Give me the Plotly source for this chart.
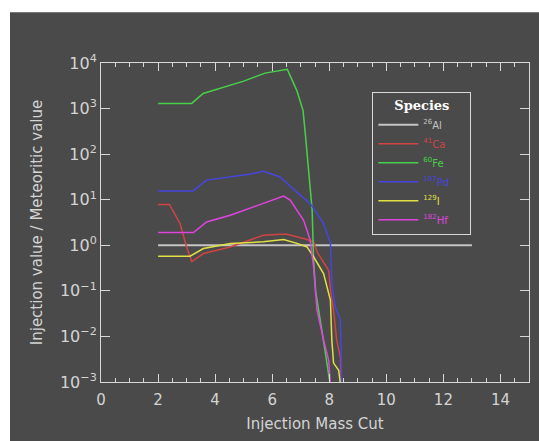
import plotly.graph_objects as go

# ---- data ----
al26_x = [2.0, 13.0]
al26_y = [1.0, 1.0]

ca41_x = [2.0, 2.4, 2.77, 3.0, 3.18, 3.59, 4.53, 5.69, 6.28, 6.51, 7.1, 7.45, 7.57, 7.98, 8.04, 8.15, 8.26, 8.39, 8.42]
ca41_y = [7.85, 7.85, 3.0, 0.92, 0.44, 0.66, 0.92, 1.66, 1.75, 1.74, 1.41, 1.2, 0.72, 0.28, 0.105, 0.038, 0.0083, 0.0035, 0.0009]

fe60_x = [2.0, 3.18, 3.58, 4.5, 5.0, 5.75, 6.2, 6.53, 6.86, 7.08, 7.16, 7.25, 7.33, 7.40, 7.45, 7.52, 7.8, 8.03]
fe60_y = [1300, 1300, 2140, 3160, 4000, 6000, 6600, 7250, 2510, 912, 282, 74, 16.2, 5.9, 0.47, 0.10, 0.0079, 0.0009]

pd107_x = [2.0, 3.23, 3.7, 4.53, 5.2, 5.70, 6.28, 6.87, 7.33, 7.8, 8.04, 8.09, 8.21, 8.39, 8.44]
pd107_y = [15.6, 15.6, 26.9, 31.6, 36.3, 42.2, 31.6, 14.5, 8.3, 3.0, 1.12, 0.145, 0.045, 0.023, 0.0009]

i129_x = [2.0, 3.12, 3.59, 4.53, 5.69, 6.4, 6.87, 7.22, 7.45, 7.8, 8.04, 8.09, 8.15, 8.33, 8.39]
i129_y = [0.575, 0.575, 0.85, 1.1, 1.19, 1.34, 1.1, 0.92, 0.56, 0.24, 0.063, 0.0083, 0.0026, 0.0018, 0.0009]

hf182_x = [2.0, 3.24, 3.7, 4.53, 5.69, 6.4, 6.63, 6.87, 7.1, 7.22, 7.33, 7.45, 7.57, 7.8, 7.98, 8.04]
hf182_y = [1.9, 1.9, 3.24, 4.57, 8.3, 12.0, 9.8, 5.9, 3.55, 2.14, 1.29, 0.34, 0.038, 0.0083, 0.003, 0.0009]

species_names = ["26|Al", "41|Ca", "60|Fe", "107|Pd", "129|I", "182|Hf"]
species_colors = ["#c4c4c4", "#d04444", "#48d048", "#4646e0", "#e0e044", "#e044e0"]

x_tickvals = [0, 2, 4, 6, 8, 10, 12, 14]
y_exponents = [-3, -2, -1, 0, 1, 2, 3, 4]

series = [
    (al26_x, al26_y),
    (ca41_x, ca41_y),
    (fe60_x, fe60_y),
    (pd107_x, pd107_y),
    (i129_x, i129_y),
    (hf182_x, hf182_y),
]

BG = "#4a4a4a"
FG = "#d4d4d4"

fig = go.Figure()
for (xs, ys), nm, col in zip(series, species_names, species_colors):
    iso, el = nm.split("|")
    label = f"<span style='color:{col}'><sup>{iso}</sup>{el}</span>     "
    fig.add_trace(go.Scatter(
        x=xs, y=ys, mode="lines", name=label,
        line=dict(color=col, width=2 if el == "Al" else 1.5),
    ))

# dark panel behind whole chart (white margin at top/left)
fig.add_shape(type="rect", xref="paper", yref="paper",
              x0=-0.2126, x1=1.03, y0=-0.19, y1=1.1588,
              fillcolor=BG, line=dict(width=0), layer="below")

fig.update_layout(
    width=539, height=441,
    margin=dict(l=101, r=10, t=63, b=59, autoexpand=False),
    paper_bgcolor="white",
    plot_bgcolor="rgba(0,0,0,0)",
    font=dict(family="DejaVu Sans", color=FG, size=14),
    showlegend=True,
    legend=dict(
        x=0.634, y=0.908, xanchor="left", yanchor="top",
        bgcolor="rgba(0,0,0,0)", bordercolor="#d8d8d8", borderwidth=1,
        font=dict(family="DejaVu Sans", size=10, color=FG),
        title=dict(text="<b>Species</b>", side="top center",
                   font=dict(family="DejaVu Serif", size=13, color="#ffffff")),
        itemwidth=40,
        tracegroupgap=0,
    ),
)

fig.update_xaxes(
    range=[0, 15], tickvals=x_tickvals, ticktext=[str(v) for v in x_tickvals],
    showgrid=False, zeroline=False, automargin=False,
    showline=True, linecolor="#d8d8d8", linewidth=1, mirror="ticks",
    ticks="inside", ticklen=8, tickcolor="#d8d8d8",
    minor=dict(dtick=0.5, ticks="inside", ticklen=4, tickcolor="#d8d8d8", showgrid=False),
    tickfont=dict(size=15, color=FG), ticklabelstandoff=4,
    title=dict(text="Injection Mass Cut", font=dict(size=15, color=FG), standoff=10),
)
fig.update_yaxes(
    type="log", range=[-3, 4],
    tickvals=[10.0 ** e for e in y_exponents],
    ticktext=[f"10<sup>{str(e).replace('-', '−')}</sup>" for e in y_exponents],
    showgrid=False, zeroline=False, automargin=False,
    showline=True, linecolor="#d8d8d8", linewidth=1, mirror="ticks",
    ticks="inside", ticklen=9, tickcolor="#d8d8d8",
    tickfont=dict(size=16, color=FG),
    title=dict(text="Injection value / Meteoritic value", font=dict(size=15, color=FG), standoff=13),
)

fig.write_html("out.html", config={"displayModeBar": False},
               post_script="document.body.style.margin='0';")
